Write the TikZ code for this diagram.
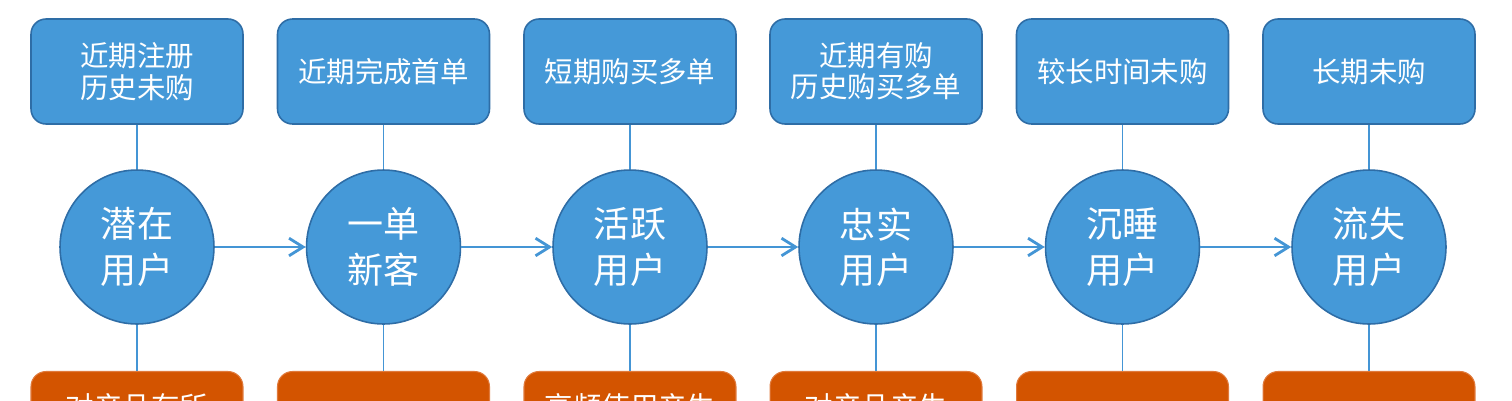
\documentclass[tikz,border=0pt]{standalone}
\usepackage{fontspec}
\newfontfamily\cjk{Noto Sans CJK SC}
\usetikzlibrary{arrows.meta}
\definecolor{bluefill}{HTML}{4599D8}
\definecolor{blueedge}{HTML}{2E6DA6}
\definecolor{blueline}{HTML}{4495D5}
\definecolor{orangefill}{HTML}{D35400}
\definecolor{orangeedge}{HTML}{E07A3C}
\tikzset{
  topbox/.style={draw=blueedge, line width=0.9pt, fill=bluefill, rounded corners=0.3cm,
    minimum width=4.24cm, minimum height=2.1cm, text=white, align=center,
    font=\cjk\fontsize{16.2pt}{17.8pt}\selectfont, inner sep=0pt},
  botbox/.style={draw=orangeedge, line width=0.6pt, fill=orangefill, rounded corners=0.3cm,
    minimum width=4.24cm, minimum height=2.1cm, inner sep=0pt},
  bottext/.style={text=white, font=\cjk\fontsize{16.2pt}{17.8pt}\selectfont, inner sep=0pt},
  stage/.style={circle, draw=blueedge, line width=0.9pt, fill=bluefill, minimum size=3.08cm,
    text=white, align=center, font=\cjk\fontsize{20.5pt}{25.8pt}\selectfont, inner sep=0pt},
  link/.style={draw=blueline, line width=1.1pt},
  flow/.style={draw=blueline, line width=1.6pt, -{Straight Barb[length=8pt,width=10pt,line width=1.6pt]}}
}
\begin{document}
\begin{tikzpicture}[x=0.02cm,y=-0.02cm]
\useasboundingbox (0,0) rectangle (1512,400);
\clip (0,0) rectangle (1512,400);
\fill[white] (0,0) rectangle (1512,400);
% top boxes
\node[topbox] (t1) at (137,71.5) {近期注册\\历史未购};
\node[topbox] (t2) at (383.5,71.5) {近期完成首单};
\node[topbox] (t3) at (630,71.5) {短期购买多单};
\node[topbox] (t4) at (876,71.5) {近期有购\\历史购买多单};
\node[topbox] (t5) at (1122.5,71.5) {较长时间未购};
\node[topbox] (t6) at (1369,71.5) {长期未购};
% circles
\node[stage] (c1) at (137,247) {潜在\\用户};
\node[stage] (c2) at (383.5,247) {一单\\新客};
\node[stage] (c3) at (630,247) {活跃\\用户};
\node[stage] (c4) at (876,247) {忠实\\用户};
\node[stage] (c5) at (1122.5,247) {沉睡\\用户};
\node[stage] (c6) at (1369,247) {流失\\用户};
% bottom boxes
\node[botbox] (b1) at (137,424) {};
\node[botbox] (b2) at (383.5,424) {};
\node[botbox] (b3) at (630,424) {};
\node[botbox] (b4) at (876,424) {};
\node[botbox] (b5) at (1122.5,424) {};
\node[botbox] (b6) at (1369,424) {};
\node[bottext] (bt1) at (137,407) {对产品有所};
\node[bottext] (bt3) at (630,407) {高频使用产生};
\node[bottext] (bt4) at (876,407) {对产品产生};
% links
\foreach \i in {1,...,6}{
  \draw[link] (t\i.south) -- (c\i.north);
  \draw[link] (c\i.south) -- (b\i.north);
}
\foreach \i/\j in {1/2,2/3,3/4,4/5,5/6}{
  \draw[flow] (c\i.east) -- (c\j.west);
}
\end{tikzpicture}
\end{document}
